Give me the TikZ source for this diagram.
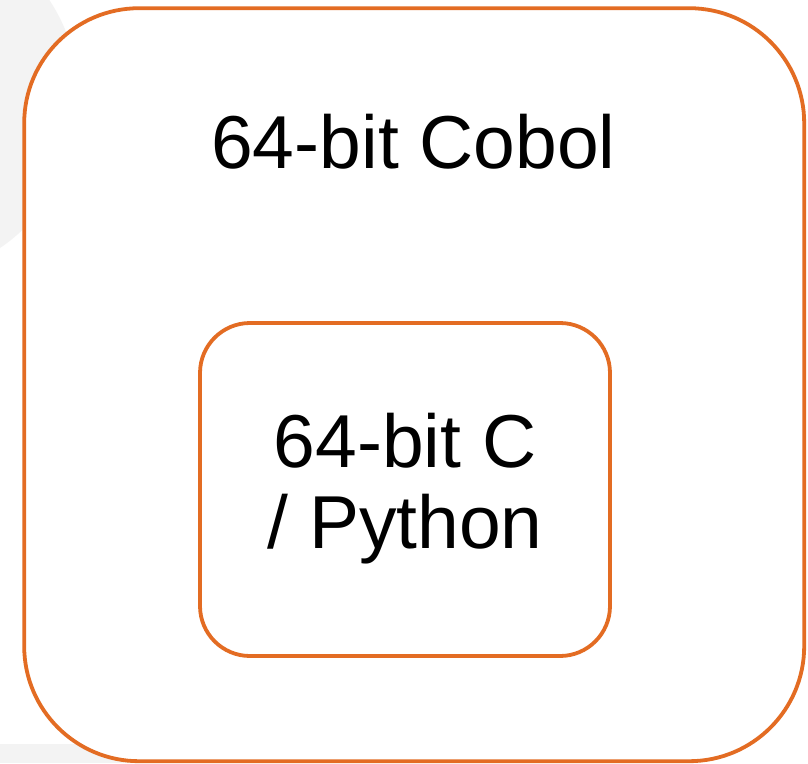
\documentclass[tikz,border=0pt]{standalone}
\usepackage{fontspec}
\setmainfont{Liberation Sans}
\definecolor{frameorange}{RGB}{227,108,35}
\definecolor{backgray}{RGB}{243,243,243}
\tikzset{
  framebox/.style={draw=frameorange, line width=3.8pt, fill=white, inner sep=0pt},
  bigtext/.style={font=\fontsize{75}{81}\selectfont, text=black, inner sep=0pt, align=center}
}
\begin{document}
\begin{tikzpicture}[x=1pt, y=-1pt]
  \useasboundingbox (0,0) rectangle (808,763);
  \fill[white] (0,0) rectangle (808,763);
  % soft gray backdrop shapes
  \fill[backgray] (-101,99) circle (180);
  \fill[backgray] (0,744) rectangle (420,763);
  % outer frame
  \node[framebox, rounded corners=115pt, minimum width=780pt, minimum height=753pt]
    (outer) at (414.2,384.7) {};
  \node[bigtext, anchor=base] (outerlabel) at (413.5,168) {64-bit Cobol};
  % inner frame
  \node[framebox, rounded corners=50pt, minimum width=410pt, minimum height=333pt]
    (inner) at (405,489.5) {};
  \node[bigtext] (innerlabel) at ([yshift=1pt]inner.center) {64-bit C\\/ Python};
\end{tikzpicture}
\end{document}
